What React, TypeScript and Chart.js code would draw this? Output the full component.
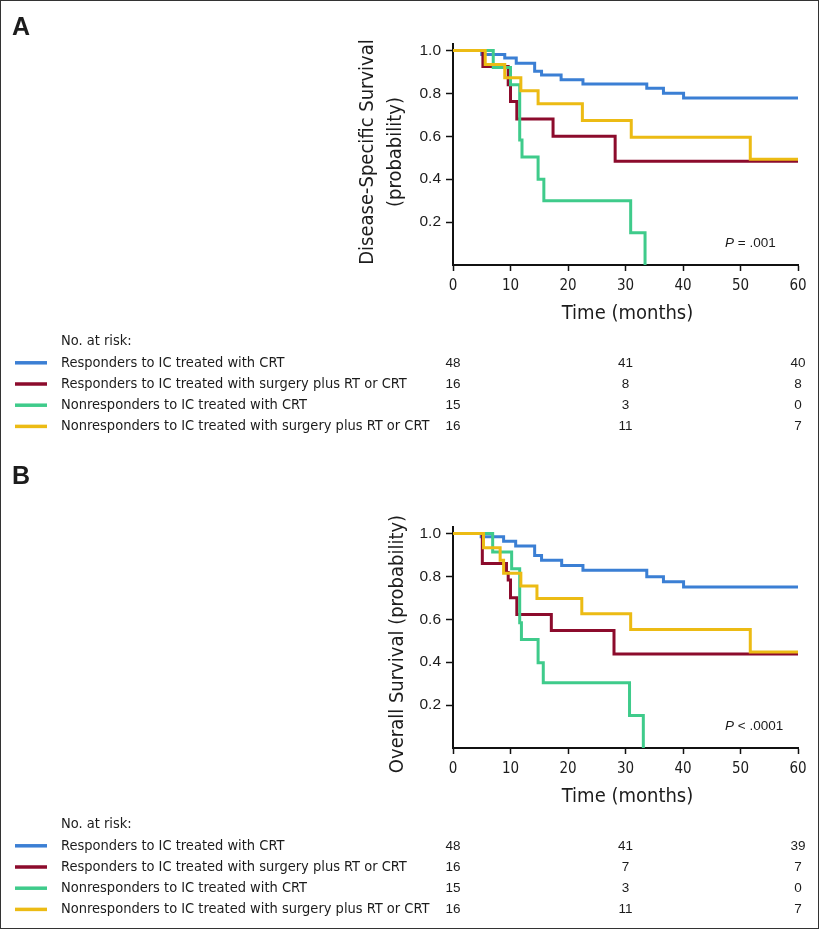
import React, { useEffect, useRef } from "react";
import { Chart, registerables } from "chart.js";

Chart.register(...registerables);

// ---------- data ----------
const GROUP_LABELS = [
  "Responders to IC treated with CRT",
  "Responders to IC treated with surgery plus RT or CRT",
  "Nonresponders to IC treated with CRT",
  "Nonresponders to IC treated with surgery plus RT or CRT",
];
const GROUP_COLORS = ["#3b7fd4", "#8c0b2c", "#3fcb8b", "#ecbb14"];
const DRAW_ORDER = [3, 2, 1, 0];

const Y_TICKS = [0.2, 0.4, 0.6, 0.8, 1.0];
const RISK_TIMES = [0, 30, 60];

// Panel A: disease-specific survival
const blueA_t = [0, 5, 9, 11, 14.2, 15.4, 18.8, 22.6, 33.7, 36.6, 40.1, 60];
const blueA_s = [1, 0.981, 0.965, 0.94, 0.903, 0.886, 0.863, 0.844, 0.824, 0.801, 0.778, 0.778];
const redA_t = [0, 5.2, 9.6, 10.0, 11.1, 17.4, 28.2, 60];
const redA_s = [1, 0.925, 0.84, 0.762, 0.681, 0.6, 0.483, 0.483];
const greenA_t = [0, 7.0, 10.0, 11.6, 12.0, 14.8, 15.8, 30.9, 33.4];
const greenA_s = [1, 0.92, 0.84, 0.583, 0.503, 0.4, 0.3, 0.15, 0];
const yellowA_t = [0, 5.6, 9.0, 11.8, 14.8, 22.5, 31.0, 51.7, 60];
const yellowA_s = [1, 0.935, 0.873, 0.812, 0.751, 0.674, 0.595, 0.493, 0.493];
const riskA = [
  [48, 41, 40],
  [16, 8, 8],
  [15, 3, 0],
  [16, 11, 7],
];

// Panel B: overall survival
const blueB_t = [0, 4.9, 8.8, 10.9, 14.2, 15.4, 18.9, 22.6, 33.7, 36.6, 40.1, 60];
const blueB_s = [1, 0.985, 0.964, 0.941, 0.897, 0.875, 0.85, 0.828, 0.798, 0.775, 0.75, 0.75];
const redB_t = [0, 5.1, 9.3, 9.6, 10.0, 11.1, 17.1, 28.0, 60];
const redB_s = [1, 0.86, 0.818, 0.783, 0.7, 0.622, 0.548, 0.438, 0.438];
const greenB_t = [0, 6.9, 10.2, 11.6, 11.9, 14.8, 15.7, 30.7, 33.1];
const greenB_s = [1, 0.914, 0.836, 0.584, 0.506, 0.397, 0.304, 0.152, 0];
const yellowB_t = [0, 5.3, 8.2, 8.8, 11.8, 14.6, 22.4, 30.9, 51.7, 60];
const yellowB_s = [1, 0.933, 0.875, 0.815, 0.755, 0.697, 0.626, 0.552, 0.448, 0.448];
const riskB = [
  [48, 41, 39],
  [16, 7, 7],
  [15, 3, 0],
  [16, 11, 7],
];

// ---------- styles ----------
const COND = "'DejaVu Sans Condensed', 'Liberation Sans Narrow', 'Arial Narrow', 'DejaVu Sans', sans-serif";
const REG = "'Liberation Sans', Arial, Helvetica, sans-serif";
const TEXT = "#1c1c1c";
const AXIS = "#111111";

type Panel = {
  letter: string;
  letterY: number;
  yTitle: string[];
  yTitleX: number[];
  yTitleDy: number;
  pText: string;
  times: number[][];
  surv: number[][];
  risk: number[][];
  top: number;
  height: number;
  off: number;
};

const PANELS: Panel[] = [
  {
    letter: "A",
    letterY: 28,
    yTitle: ["Disease-Specific Survival", "(probability)"],
    yTitleX: [368, 396],
    yTitleDy: 108,
    pText: " = .001",
    times: [blueA_t, redA_t, greenA_t, yellowA_t],
    surv: [blueA_s, redA_s, greenA_s, yellowA_s],
    risk: riskA,
    top: 0,
    height: 460,
    off: 0,
  },
  {
    letter: "B",
    letterY: 17,
    yTitle: ["Overall Survival (probability)"],
    yTitleX: [398],
    yTitleDy: 117,
    pText: " < .0001",
    times: [blueB_t, redB_t, greenB_t, yellowB_t],
    surv: [blueB_s, redB_s, greenB_s, yellowB_s],
    risk: riskB,
    top: 460,
    height: 471,
    off: 23,
  },
];

function makeOverlay(p: Panel) {
  return {
    id: "overlay" + p.letter,
    afterDraw(chart: any) {
      const ctx = chart.ctx as CanvasRenderingContext2D;
      const area = chart.chartArea;
      const xs = chart.scales.x;
      ctx.save();
      ctx.fillStyle = TEXT;

      ctx.font = `bold 25px ${REG}`;
      ctx.textAlign = "left";
      ctx.textBaseline = "middle";
      ctx.fillText(p.letter, 12, p.letterY);

      ctx.font = `20px ${COND}`;
      ctx.textAlign = "center";
      p.yTitle.forEach((line, i) => {
        ctx.save();
        ctx.translate(p.yTitleX[i], area.top + p.yTitleDy);
        ctx.rotate(-Math.PI / 2);
        ctx.fillText(line, 0, 0);
        ctx.restore();
      });

      ctx.fillText("Time (months)", (area.left + area.right) / 2 + 2, area.bottom + 48.5);

      ctx.textAlign = "left";
      const px = 725;
      const py = area.bottom - 21.5;
      ctx.font = `italic 13.5px ${REG}`;
      ctx.fillText("P", px, py);
      const w = ctx.measureText("P").width;
      ctx.font = `13.5px ${REG}`;
      ctx.fillText(p.pText, px + w, py);

      ctx.font = `14.5px ${COND}`;
      ctx.fillText("No. at risk:", 61, area.bottom + 76);
      GROUP_LABELS.forEach((label, g) => {
        const y = area.bottom + 97.8 + g * 21.2;
        ctx.strokeStyle = GROUP_COLORS[g];
        ctx.lineWidth = 3.5;
        ctx.beginPath();
        ctx.moveTo(15, y);
        ctx.lineTo(47, y);
        ctx.stroke();
        ctx.font = `14.5px ${COND}`;
        ctx.textAlign = "left";
        ctx.fillText(label, 61, y);
        ctx.font = `13.5px ${REG}`;
        ctx.textAlign = "center";
        p.risk[g].forEach((n, k) => {
          ctx.fillText(String(n), xs.getPixelForValue(RISK_TIMES[k]), y);
        });
      });
      ctx.restore();
    },
  };
}

function makeConfig(p: Panel): any {
  const bottomEdge = 265 + p.off;
  return {
    type: "line",
    data: {
      datasets: p.times.map((ts, g) => ({
        label: GROUP_LABELS[g],
        data: ts.map((t, i) => ({ x: t, y: p.surv[g][i] })),
        borderColor: GROUP_COLORS[g],
        backgroundColor: GROUP_COLORS[g],
        borderWidth: 3,
        pointRadius: 0,
        stepped: "before",
        fill: false,
        order: DRAW_ORDER[g],
        borderCapStyle: "butt",
        borderJoinStyle: "miter",
      })),
    },
    options: {
      animation: false,
      responsive: false,
      maintainAspectRatio: false,
      events: [],
      layout: { padding: { top: 44 + p.off, right: 25, left: 0, bottom: 0 } },
      plugins: {
        legend: { display: false },
        title: { display: false },
        tooltip: { enabled: false },
      },
      scales: {
        x: {
          type: "linear",
          min: 0,
          max: 60,
          afterFit: (s: any) => {
            s.height = p.height - bottomEdge;
          },
          ticks: {
            stepSize: 10,
            font: { family: COND, size: 15 },
            color: TEXT,
            padding: 6,
            maxRotation: 0,
          },
          grid: {
            drawOnChartArea: false,
            drawTicks: true,
            tickLength: 6,
            tickColor: AXIS,
            tickWidth: 1.5,
          },
          border: { display: true, color: AXIS, width: 2 },
        },
        y: {
          type: "linear",
          min: 0,
          max: 1.03,
          afterFit: (s: any) => {
            s.width = 453;
          },
          afterBuildTicks: (s: any) => {
            s.ticks = Y_TICKS.map((v) => ({ value: v }));
          },
          ticks: {
            font: { family: REG, size: 15.5 },
            color: TEXT,
            padding: 5,
            callback: (v: any) => Number(v).toFixed(1),
          },
          grid: {
            drawOnChartArea: false,
            drawTicks: true,
            tickLength: 7,
            tickColor: AXIS,
            tickWidth: 1.5,
          },
          border: { display: true, color: AXIS, width: 2 },
        },
      },
    },
    plugins: [makeOverlay(p)],
  };
}

function PanelChart({ panel }: { panel: Panel }) {
  const ref = useRef<HTMLCanvasElement | null>(null);
  useEffect(() => {
    if (!ref.current) return;
    const chart = new Chart(ref.current, makeConfig(panel));
    return () => chart.destroy();
  }, [panel]);
  return (
    <canvas
      ref={ref}
      width={823}
      height={panel.height}
      style={{
        position: "absolute",
        left: 0,
        top: panel.top,
        width: 823,
        height: panel.height,
        display: "block",
      }}
    />
  );
}

export default function App() {
  return (
    <div
      style={{
        position: "absolute",
        left: 0,
        top: 0,
        width: 823,
        height: 931,
        overflow: "hidden",
        background: "#ffffff",
      }}
    >
      {PANELS.map((p) => (
        <PanelChart key={p.letter} panel={p} />
      ))}
      <div
        style={{
          position: "absolute",
          left: 0,
          top: 0,
          width: 819,
          height: 929,
          boxSizing: "border-box",
          border: "1.5px solid #333",
          pointerEvents: "none",
        }}
      />
    </div>
  );
}
